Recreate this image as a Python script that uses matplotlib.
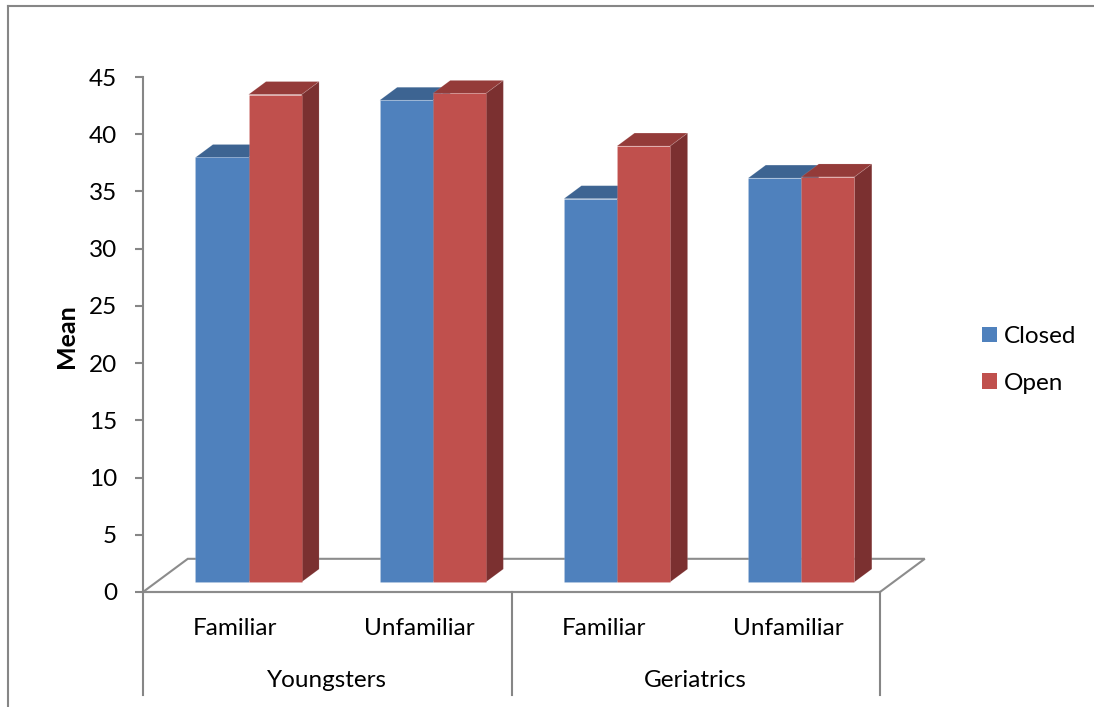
import matplotlib
matplotlib.use("Agg")
import matplotlib.pyplot as plt
from matplotlib.patches import Polygon, Patch
from matplotlib.lines import Line2D

plt.rcParams['font.family'] = ['Lato', 'DejaVu Sans']

# data
groups = ['Youngsters', 'Geriatrics']
conditions = ['Familiar', 'Unfamiliar', 'Familiar', 'Unfamiliar']
series = ['Closed', 'Open']
closed = [37.1, 42.1, 33.5, 35.3]
opened = [42.6, 42.7, 38.1, 35.4]
yticks = [0, 5, 10, 15, 20, 25, 30, 35, 40, 45]

# colours (front, top, side)
blue = ('#4F81BD', '#3D6492', '#2F4F75')
red = ('#C0504D', '#943B39', '#7B3030')
grey = '#868686'

# oblique depth of the floor, in data units
DX, DY = 0.243, 2.9
FRONT, BACK = 0.30, 0.69
W = 0.288
FS = 17.5

fig = plt.figure(figsize=(10.94, 7.07), dpi=100)
ax = fig.add_axes([143 / 1094, 115 / 707, 737 / 1094, 515 / 707])
ax.set_xlim(0, 4)
ax.set_ylim(0, 45)


def bar3d(x0, v, cols):
    fx, fy = FRONT * DX, FRONT * DY
    bx, by = BACK * DX, BACK * DY
    front = [(x0 + fx, fy), (x0 + W + fx, fy), (x0 + W + fx, v + fy), (x0 + fx, v + fy)]
    top = [(x0 + fx, v + fy), (x0 + W + fx, v + fy), (x0 + W + bx, v + by), (x0 + bx, v + by)]
    side = [(x0 + W + fx, fy), (x0 + W + bx, by), (x0 + W + bx, v + by), (x0 + W + fx, v + fy)]
    for pts, c in ((side, cols[2]), (top, cols[1]), (front, cols[0])):
        ax.add_patch(Polygon(pts, closed=True, facecolor=c, edgecolor=(1, 1, 1, 0.12),
                             linewidth=0.6, clip_on=False, zorder=3))


# floor
floor = [(0, 0), (4, 0), (4 + DX, DY), (DX, DY)]
ax.add_patch(Polygon(floor, closed=True, facecolor='white', edgecolor='#8C8C8C',
                     linewidth=1.5, clip_on=False, zorder=1))

for i in range(4):
    bar3d(i + 0.5 - W, closed[i], blue)
    bar3d(i + 0.5, opened[i], red)

# axes styling
for s in ['top', 'right', 'bottom']:
    ax.spines[s].set_visible(False)
ax.spines['left'].set_color(grey)
ax.spines['left'].set_linewidth(1.5)
ax.set_yticks(yticks)
ax.tick_params(axis='y', length=5.8, width=1.5, color=grey, pad=13, labelsize=FS)
ax.set_xticks([])
ax.text(-76 / 737, 0.497, 'Mean', transform=ax.transAxes, rotation=90,
        ha='center', va='center', fontsize=FS + 0.5, fontweight='bold')

# category and group labels with separators
tr = ax.get_xaxis_transform()
ax.plot([0, 4], [0, 0], color='#8C8C8C', lw=1.5, transform=tr, clip_on=False, zorder=2)
for xs in [0, 2, 4]:
    ax.plot([xs, xs], [0, -0.2], color=grey, lw=1.5, transform=tr, clip_on=False)
for i, lab in enumerate(conditions):
    ax.text(i + 0.5, -0.07, lab, transform=tr, ha='center', va='center', fontsize=FS)
for j, g in enumerate(groups):
    ax.text(2 * j + 1, -0.171, g, transform=tr, ha='center', va='center', fontsize=FS)

# legend
handles = [Patch(facecolor=blue[0]), Patch(facecolor=red[0])]
fig.legend(handles, series, loc='center left', bbox_to_anchor=(982 / 1094, 1 - 360 / 707),
           frameon=False, fontsize=FS, handlelength=0.6, handleheight=0.6,
           handletextpad=0.3, labelspacing=1.05, borderpad=0, borderaxespad=0)

# chart area border (top and left)
fig.add_artist(Line2D([8 / 1094, 1], [1 - 6 / 707, 1 - 6 / 707], color=grey, lw=1.5))
fig.add_artist(Line2D([8 / 1094, 8 / 1094], [0, 1 - 6 / 707], color=grey, lw=1.5))

fig.savefig('out.png', dpi=100)
